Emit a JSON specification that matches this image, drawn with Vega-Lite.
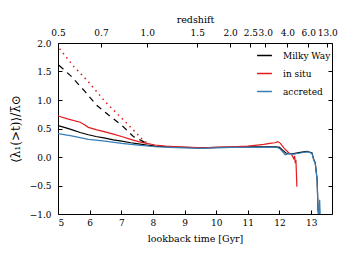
{
  "$schema": "https://vega.github.io/schema/vega-lite/v6.json",
  "width": 274,
  "height": 171,
  "autosize": {"type": "none"},
  "padding": {"left": 58, "top": 43, "right": 14, "bottom": 46},
  "background": "white",
  "config": {
    "view": {"stroke": "black", "strokeWidth": 1},
    "font": "DejaVu Serif",
    "legend": {"labelFont": "DejaVu Serif", "titleFont": "DejaVu Serif"},
    "axis": {
      "labelFont": "DejaVu Serif",
      "titleFont": "DejaVu Serif",
      "labelFontSize": 9,
      "titleFontSize": 9.5,
      "titleFontWeight": "normal",
      "labelColor": "black",
      "titleColor": "black",
      "domainColor": "black",
      "tickColor": "black",
      "grid": false
    }
  },
  "datasets": {
    "solid": [
      {"series": "Milky Way", "t": 5.0, "v": 0.55},
      {"series": "Milky Way", "t": 5.2, "v": 0.52},
      {"series": "Milky Way", "t": 5.43, "v": 0.48},
      {"series": "Milky Way", "t": 5.7, "v": 0.43},
      {"series": "Milky Way", "t": 5.96, "v": 0.39},
      {"series": "Milky Way", "t": 6.2, "v": 0.36},
      {"series": "Milky Way", "t": 6.49, "v": 0.33},
      {"series": "Milky Way", "t": 6.75, "v": 0.3},
      {"series": "Milky Way", "t": 7.01, "v": 0.28},
      {"series": "Milky Way", "t": 7.3, "v": 0.25},
      {"series": "Milky Way", "t": 7.54, "v": 0.23},
      {"series": "Milky Way", "t": 7.8, "v": 0.21},
      {"series": "Milky Way", "t": 8.07, "v": 0.19},
      {"series": "Milky Way", "t": 8.5, "v": 0.18},
      {"series": "Milky Way", "t": 9.0, "v": 0.17},
      {"series": "Milky Way", "t": 9.5, "v": 0.16},
      {"series": "Milky Way", "t": 10.0, "v": 0.17},
      {"series": "Milky Way", "t": 10.5, "v": 0.175},
      {"series": "Milky Way", "t": 11.0, "v": 0.18},
      {"series": "Milky Way", "t": 11.5, "v": 0.18},
      {"series": "Milky Way", "t": 11.9, "v": 0.18},
      {"series": "Milky Way", "t": 12.0, "v": 0.17},
      {"series": "Milky Way", "t": 12.1, "v": 0.12},
      {"series": "Milky Way", "t": 12.2, "v": 0.07},
      {"series": "Milky Way", "t": 12.3, "v": 0.06},
      {"series": "Milky Way", "t": 12.45, "v": 0.06},
      {"series": "Milky Way", "t": 12.66, "v": 0.08},
      {"series": "Milky Way", "t": 12.87, "v": 0.1},
      {"series": "Milky Way", "t": 13.03, "v": 0.07},
      {"series": "Milky Way", "t": 13.08, "v": -0.04},
      {"series": "Milky Way", "t": 13.13, "v": -0.1},
      {"series": "Milky Way", "t": 13.19, "v": -0.4},
      {"series": "Milky Way", "t": 13.22, "v": -0.95},
      {"series": "in situ", "t": 5.0, "v": 0.72},
      {"series": "in situ", "t": 5.3, "v": 0.67},
      {"series": "in situ", "t": 5.7, "v": 0.61},
      {"series": "in situ", "t": 5.85, "v": 0.56},
      {"series": "in situ", "t": 5.96, "v": 0.52},
      {"series": "in situ", "t": 6.2, "v": 0.48},
      {"series": "in situ", "t": 6.49, "v": 0.44},
      {"series": "in situ", "t": 6.75, "v": 0.4},
      {"series": "in situ", "t": 7.01, "v": 0.36},
      {"series": "in situ", "t": 7.3, "v": 0.31},
      {"series": "in situ", "t": 7.54, "v": 0.27},
      {"series": "in situ", "t": 7.8, "v": 0.24},
      {"series": "in situ", "t": 8.07, "v": 0.21},
      {"series": "in situ", "t": 8.4, "v": 0.19},
      {"series": "in situ", "t": 8.8, "v": 0.18},
      {"series": "in situ", "t": 9.2, "v": 0.17},
      {"series": "in situ", "t": 9.6, "v": 0.16},
      {"series": "in situ", "t": 10.0, "v": 0.17},
      {"series": "in situ", "t": 10.5, "v": 0.18},
      {"series": "in situ", "t": 11.0, "v": 0.19},
      {"series": "in situ", "t": 11.3, "v": 0.21},
      {"series": "in situ", "t": 11.5, "v": 0.22},
      {"series": "in situ", "t": 11.7, "v": 0.24},
      {"series": "in situ", "t": 11.85, "v": 0.25},
      {"series": "in situ", "t": 11.95, "v": 0.27},
      {"series": "in situ", "t": 12.03, "v": 0.24},
      {"series": "in situ", "t": 12.15, "v": 0.15},
      {"series": "in situ", "t": 12.3, "v": 0.07},
      {"series": "in situ", "t": 12.38, "v": 0.05},
      {"series": "in situ", "t": 12.45, "v": -0.03},
      {"series": "in situ", "t": 12.48, "v": 0.02},
      {"series": "in situ", "t": 12.5, "v": -0.11},
      {"series": "in situ", "t": 12.52, "v": -0.05},
      {"series": "in situ", "t": 12.55, "v": -0.52},
      {"series": "accreted", "t": 5.0, "v": 0.41},
      {"series": "accreted", "t": 5.43, "v": 0.37},
      {"series": "accreted", "t": 5.96, "v": 0.31},
      {"series": "accreted", "t": 6.49, "v": 0.28},
      {"series": "accreted", "t": 7.01, "v": 0.24},
      {"series": "accreted", "t": 7.54, "v": 0.21},
      {"series": "accreted", "t": 8.07, "v": 0.18},
      {"series": "accreted", "t": 8.5, "v": 0.17},
      {"series": "accreted", "t": 9.0, "v": 0.16},
      {"series": "accreted", "t": 9.5, "v": 0.15},
      {"series": "accreted", "t": 10.0, "v": 0.16},
      {"series": "accreted", "t": 10.5, "v": 0.17},
      {"series": "accreted", "t": 11.0, "v": 0.17},
      {"series": "accreted", "t": 11.5, "v": 0.17},
      {"series": "accreted", "t": 11.9, "v": 0.17},
      {"series": "accreted", "t": 12.0, "v": 0.15},
      {"series": "accreted", "t": 12.1, "v": 0.09},
      {"series": "accreted", "t": 12.18, "v": 0.04},
      {"series": "accreted", "t": 12.29, "v": 0.06},
      {"series": "accreted", "t": 12.45, "v": 0.05},
      {"series": "accreted", "t": 12.66, "v": 0.07},
      {"series": "accreted", "t": 12.87, "v": 0.09},
      {"series": "accreted", "t": 12.95, "v": 0.08},
      {"series": "accreted", "t": 13.03, "v": 0.06},
      {"series": "accreted", "t": 13.08, "v": -0.05},
      {"series": "accreted", "t": 13.13, "v": -0.11},
      {"series": "accreted", "t": 13.19, "v": -0.4},
      {"series": "accreted", "t": 13.22, "v": -0.99},
      {"series": "accreted", "t": 13.25, "v": -1.05},
      {"series": "accreted", "t": 13.27, "v": -0.75},
      {"series": "accreted", "t": 13.29, "v": -1.05}
    ],
    "dashed": [
      {"t": 5.03, "v": 1.61},
      {"t": 5.43, "v": 1.41},
      {"t": 5.85, "v": 1.15},
      {"t": 6.22, "v": 0.91},
      {"t": 6.59, "v": 0.74},
      {"t": 7.01, "v": 0.56},
      {"t": 7.38, "v": 0.36},
      {"t": 7.7, "v": 0.27},
      {"t": 7.8, "v": 0.24}
    ],
    "dotted": [
      {"t": 5.05, "v": 1.9},
      {"t": 5.48, "v": 1.6},
      {"t": 5.96, "v": 1.32},
      {"t": 6.49, "v": 0.97},
      {"t": 7.07, "v": 0.65},
      {"t": 7.44, "v": 0.44},
      {"t": 7.7, "v": 0.29},
      {"t": 7.85, "v": 0.24}
    ]
  },
  "layer": [
    {
      "mark": {"type": "rule", "color": "#999999", "strokeDash": [1.5, 3], "strokeWidth": 1},
      "encoding": {
        "y": {"datum": 0, "type": "quantitative", "scale": {"domain": [-1, 2]}, "axis": null}
      }
    },
    {
      "data": {"name": "solid"},
      "mark": {"type": "line", "strokeWidth": 1.2, "clip": true},
      "encoding": {
        "x": {
          "field": "t", "type": "quantitative",
          "scale": {"domain": [5, 13.66], "nice": false, "zero": false},
          "axis": {
            "orient": "bottom", "title": "lookback time [Gyr]",
            "values": [5, 6, 7, 8, 9, 10, 11, 12, 13], "format": "d",
            "tickSize": -4, "labelPadding": 8, "titlePadding": 6, "domain": false
          }
        },
        "y": {
          "field": "v", "type": "quantitative",
          "scale": {"domain": [-1, 2], "nice": false, "zero": false},
          "axis": {
            "orient": "left", "title": "⟨λ₁(>t)⟩/λ̄⊙",
            "values": [-1, -0.5, 0, 0.5, 1, 1.5, 2], "format": ".1f",
            "tickSize": -4, "labelPadding": 11, "titlePadding": 7, "domain": false,
            "titleFontSize": 12
          }
        },
        "color": {
          "field": "series", "type": "nominal",
          "scale": {"domain": ["Milky Way", "in situ", "accreted"], "range": ["#000000", "#e41a1c", "#377eb8"]},
          "legend": {
            "title": null, "orient": "none", "legendX": 198, "legendY": 4,
            "symbolType": "stroke", "symbolSize": 220, "symbolStrokeWidth": 1.5,
            "labelFontSize": 9, "labelColor": "black",
            "labelOffset": 10, "rowPadding": 4
          }
        },
        "order": {"field": "t", "type": "quantitative"}
      }
    },
    {
      "data": {"name": "dashed"},
      "mark": {"type": "line", "color": "black", "strokeWidth": 1.2, "strokeDash": [6, 5]},
      "encoding": {
        "x": {
          "field": "t", "type": "quantitative",
          "scale": {"domain": [5, 13.66], "nice": false, "zero": false},
          "axis": {
            "orient": "top", "title": "redshift",
            "values": [5.0, 6.36, 7.82, 9.4, 10.44, 11.08, 11.55, 12.25, 12.91, 13.51],
            "labelExpr": "['0.5','0.7','1.0','1.5','2.0','2.5','3.0','4.0','6.0','13.0'][indexof([5.0, 6.36, 7.82, 9.4, 10.44, 11.08, 11.55, 12.25, 12.91, 13.51], datum.value)]",
            "tickSize": -4, "labelPadding": 10, "titlePadding": 4, "domain": false, "labelOverlap": false, "labelFlush": false
          }
        },
        "y": {
          "field": "v", "type": "quantitative",
          "scale": {"domain": [-1, 2], "nice": false, "zero": false},
          "axis": {
            "orient": "right", "title": null, "labels": false,
            "values": [-1, -0.5, 0, 0.5, 1, 1.5, 2],
            "tickSize": -4, "domain": false
          }
        }
      }
    },
    {
      "data": {"name": "dotted"},
      "mark": {"type": "line", "color": "#e41a1c", "strokeWidth": 1.5, "strokeDash": [1.5, 4]},
      "encoding": {
        "x": {"field": "t", "type": "quantitative", "scale": {"domain": [5, 13.66], "nice": false, "zero": false}, "axis": null},
        "y": {"field": "v", "type": "quantitative", "scale": {"domain": [-1, 2], "nice": false, "zero": false}, "axis": null}
      }
    }
  ],
  "resolve": {"axis": {"x": "independent", "y": "independent"}}
}
